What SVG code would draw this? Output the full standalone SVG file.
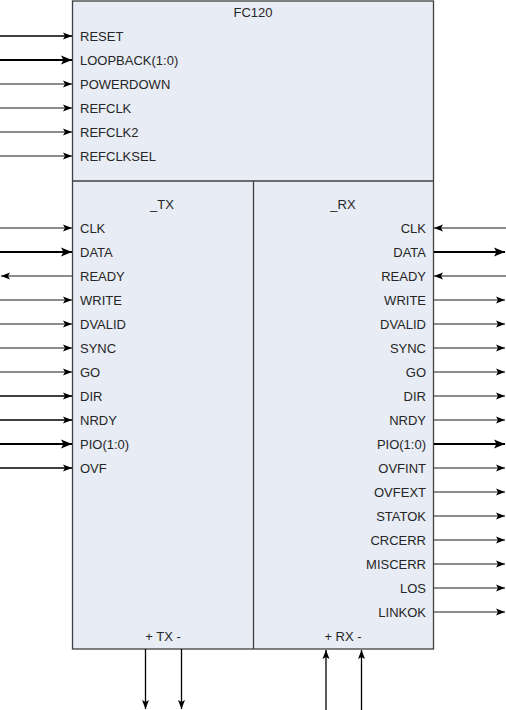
<svg xmlns="http://www.w3.org/2000/svg" width="506" height="710" viewBox="0 0 506 710">
<defs>
<style>
.box{fill:#e8ecf5;stroke:#404040;stroke-width:1.3}
.div{fill:none;stroke:#404040;stroke-width:1.3}
.t{font-family:"Liberation Sans",Arial,sans-serif;font-size:13px;fill:#262626}
.l{text-anchor:start}
.r{text-anchor:end}
.c{text-anchor:middle}
.w{stroke:#666;stroke-width:1.3;fill:none}
.b{stroke:#000;stroke-width:2;fill:none}
.k{stroke:#000;stroke-width:1.3;fill:none}
</style>
<marker id="aw" markerWidth="10" markerHeight="8" refX="9" refY="4" orient="auto" markerUnits="userSpaceOnUse">
<path d="M0,0.5 L9,4 L0,7.5 L2,4 Z" fill="#000"/>
</marker>
<marker id="ab" markerWidth="12" markerHeight="10" refX="11" refY="5" orient="auto" markerUnits="userSpaceOnUse">
<path d="M0,0.5 L11,5 L0,9.5 L2.5,5 Z" fill="#000"/>
</marker>
</defs>
<g id="fc120">
<rect class="box" x="72.5" y="1" width="361" height="648"/>
<line class="div" x1="72.5" y1="181" x2="433.5" y2="181"/>
<text class="t c" x="253" y="17">FC120</text>
<text class="t l" x="80" y="41">RESET</text>
<text class="t l" x="80" y="65">LOOPBACK(1:0)</text>
<text class="t l" x="80" y="89">POWERDOWN</text>
<text class="t l" x="80" y="113">REFCLK</text>
<text class="t l" x="80" y="137">REFCLK2</text>
<text class="t l" x="80" y="161">REFCLKSEL</text>
</g>
<g id="tx">
<line class="div" x1="253.5" y1="181" x2="253.5" y2="649"/>
<text class="t c" x="162" y="209">_TX</text>
<text class="t l" x="80" y="233">CLK</text>
<text class="t l" x="80" y="257">DATA</text>
<text class="t l" x="80" y="281">READY</text>
<text class="t l" x="80" y="305">WRITE</text>
<text class="t l" x="80" y="329">DVALID</text>
<text class="t l" x="80" y="353">SYNC</text>
<text class="t l" x="80" y="377">GO</text>
<text class="t l" x="80" y="401">DIR</text>
<text class="t l" x="80" y="425">NRDY</text>
<text class="t l" x="80" y="449">PIO(1:0)</text>
<text class="t l" x="80" y="473">OVF</text>
<text class="t c" x="163" y="641">+ TX -</text>
</g>
<g id="rx">
<text class="t c" x="343" y="209">_RX</text>
<text class="t r" x="426" y="233">CLK</text>
<text class="t r" x="426" y="257">DATA</text>
<text class="t r" x="426" y="281">READY</text>
<text class="t r" x="426" y="305">WRITE</text>
<text class="t r" x="426" y="329">DVALID</text>
<text class="t r" x="426" y="353">SYNC</text>
<text class="t r" x="426" y="377">GO</text>
<text class="t r" x="426" y="401">DIR</text>
<text class="t r" x="426" y="425">NRDY</text>
<text class="t r" x="426" y="449">PIO(1:0)</text>
<text class="t r" x="426" y="473">OVFINT</text>
<text class="t r" x="426" y="497">OVFEXT</text>
<text class="t r" x="426" y="521">STATOK</text>
<text class="t r" x="426" y="545">CRCERR</text>
<text class="t r" x="426" y="569">MISCERR</text>
<text class="t r" x="426" y="593">LOS</text>
<text class="t r" x="426" y="617">LINKOK</text>
<text class="t c" x="343" y="641">+ RX -</text>
</g>
<g id="connectors">
<line class="k" x1="0" y1="36" x2="72" y2="36" marker-end="url(#aw)"/>
<line class="b" x1="0" y1="60" x2="72" y2="60" marker-end="url(#ab)"/>
<line class="w" x1="0" y1="84" x2="72" y2="84" marker-end="url(#aw)"/>
<line class="w" x1="0" y1="108" x2="72" y2="108" marker-end="url(#aw)"/>
<line class="w" x1="0" y1="132" x2="72" y2="132" marker-end="url(#aw)"/>
<line class="w" x1="0" y1="156" x2="72" y2="156" marker-end="url(#aw)"/>
<line class="w" x1="0" y1="228" x2="72" y2="228" marker-end="url(#aw)"/>
<line class="b" x1="0" y1="252" x2="72" y2="252" marker-end="url(#ab)"/>
<line class="w" x1="72" y1="276" x2="1" y2="276" marker-end="url(#aw)"/>
<line class="w" x1="0" y1="300" x2="72" y2="300" marker-end="url(#aw)"/>
<line class="w" x1="0" y1="324" x2="72" y2="324" marker-end="url(#aw)"/>
<line class="w" x1="0" y1="348" x2="72" y2="348" marker-end="url(#aw)"/>
<line class="w" x1="0" y1="372" x2="72" y2="372" marker-end="url(#aw)"/>
<line class="k" x1="0" y1="396" x2="72" y2="396" marker-end="url(#aw)"/>
<line class="k" x1="0" y1="420" x2="72" y2="420" marker-end="url(#aw)"/>
<line class="b" x1="0" y1="444" x2="72" y2="444" marker-end="url(#ab)"/>
<line class="k" x1="0" y1="468" x2="72" y2="468" marker-end="url(#aw)"/>
<line class="w" x1="506" y1="228" x2="434" y2="228" marker-end="url(#aw)"/>
<line class="b" x1="434" y1="252" x2="505" y2="252" marker-end="url(#ab)"/>
<line class="w" x1="506" y1="276" x2="434" y2="276" marker-end="url(#aw)"/>
<line class="w" x1="434" y1="300" x2="505" y2="300" marker-end="url(#aw)"/>
<line class="w" x1="434" y1="324" x2="505" y2="324" marker-end="url(#aw)"/>
<line class="w" x1="434" y1="348" x2="505" y2="348" marker-end="url(#aw)"/>
<line class="w" x1="434" y1="372" x2="505" y2="372" marker-end="url(#aw)"/>
<line class="w" x1="434" y1="396" x2="505" y2="396" marker-end="url(#aw)"/>
<line class="w" x1="434" y1="420" x2="505" y2="420" marker-end="url(#aw)"/>
<line class="b" x1="434" y1="444" x2="505" y2="444" marker-end="url(#ab)"/>
<line class="w" x1="434" y1="468" x2="505" y2="468" marker-end="url(#aw)"/>
<line class="w" x1="434" y1="492" x2="505" y2="492" marker-end="url(#aw)"/>
<line class="w" x1="434" y1="516" x2="505" y2="516" marker-end="url(#aw)"/>
<line class="w" x1="434" y1="540" x2="505" y2="540" marker-end="url(#aw)"/>
<line class="w" x1="434" y1="564" x2="505" y2="564" marker-end="url(#aw)"/>
<line class="w" x1="434" y1="588" x2="505" y2="588" marker-end="url(#aw)"/>
<line class="w" x1="434" y1="612" x2="505" y2="612" marker-end="url(#aw)"/>
<line class="k" x1="145.5" y1="649" x2="145.5" y2="709" marker-end="url(#aw)"/>
<line class="k" x1="181.5" y1="649" x2="181.5" y2="709" marker-end="url(#aw)"/>
<line class="k" x1="326" y1="710" x2="326" y2="650" marker-end="url(#aw)"/>
<line class="k" x1="361.5" y1="710" x2="361.5" y2="650" marker-end="url(#aw)"/>
</g>
</svg>
